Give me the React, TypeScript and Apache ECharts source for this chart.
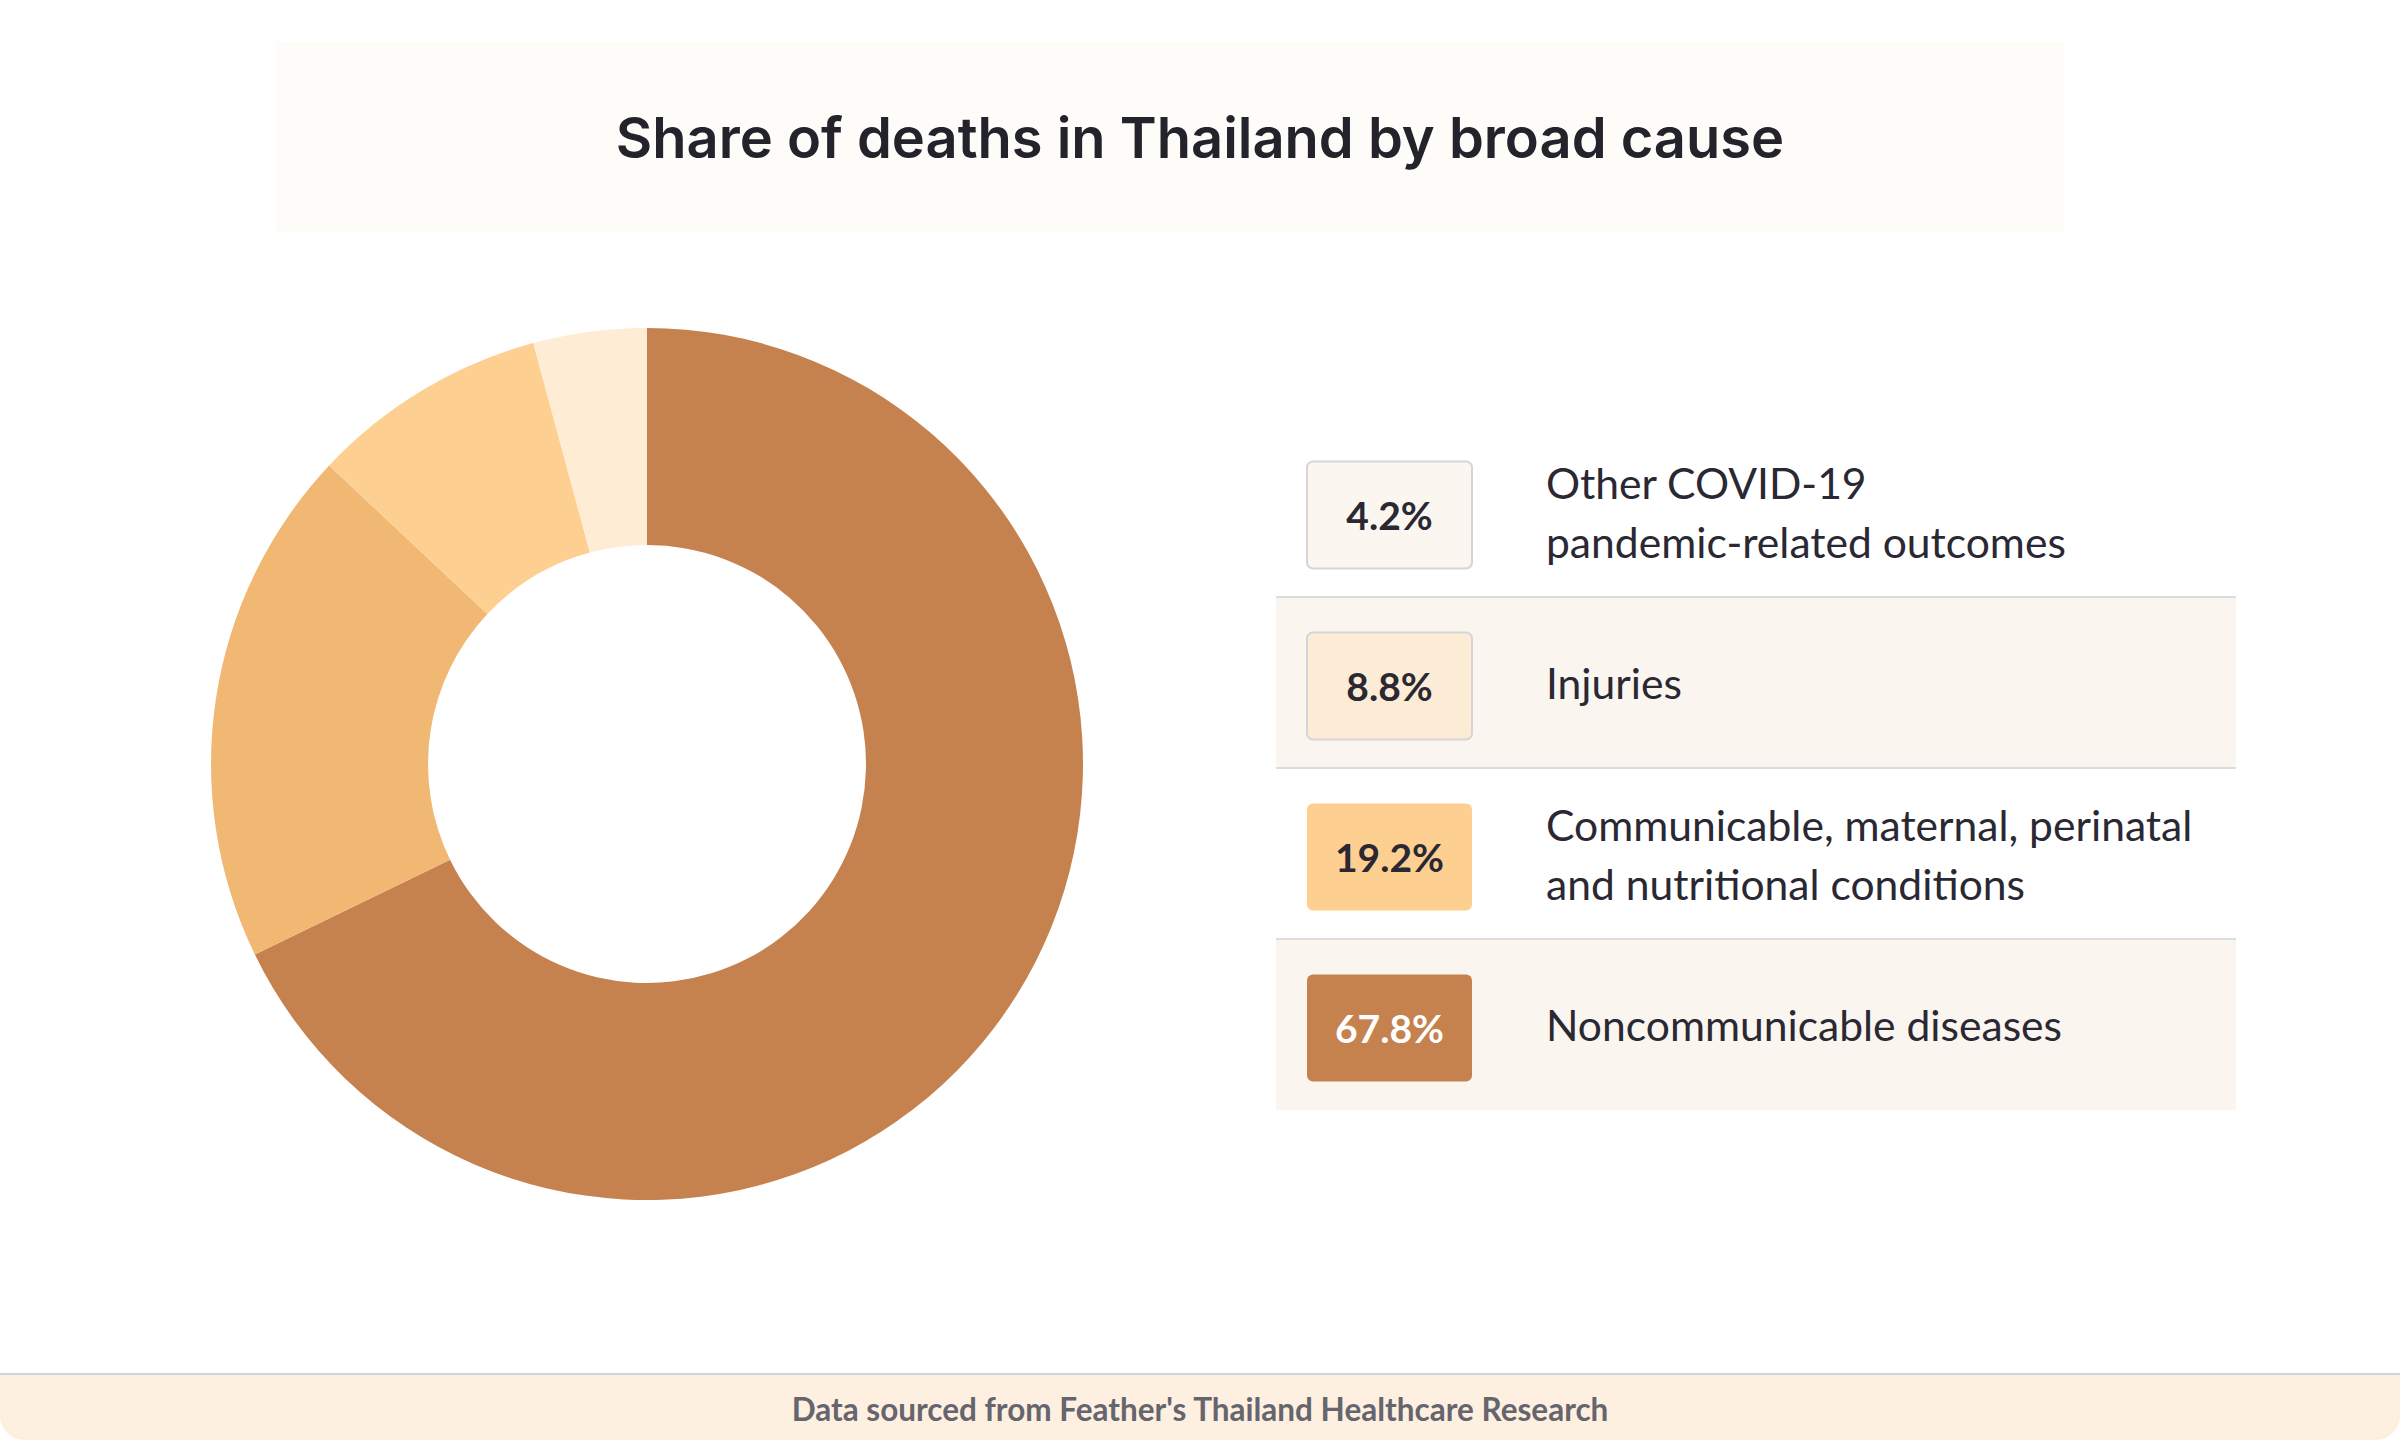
import { useEffect, useRef } from 'react'
import * as echarts from 'echarts'

// pie order: clockwise from 12 o'clock
const causes = [
  'Noncommunicable diseases',
  'Communicable, maternal, perinatal\nand nutritional conditions',
  'Injuries',
  'Other COVID-19\npandemic-related outcomes',
]
const shares = [67.8, 19.2, 8.8, 4.2]
const sliceColors = ['#C5824E', '#F1B874', '#FDD092', '#FEECD4']

// legend rows, top to bottom
const legendOrder = [3, 2, 1, 0]
const legendBoxColors = ['#FBF7F0', '#FDECD5', '#FDD092', '#C5824E']
const legendBoxBorders = ['#D6D4D8', '#D6D4D8', null, null]
const legendTextColors = ['#2A2833', '#2A2833', '#2A2833', '#FFFFFF']

const TITLE = 'Share of deaths in Thailand by broad cause'
const SOURCE = "Data sourced from Feather's Thailand Healthcare Research"

export default function App() {
  const ref = useRef<HTMLDivElement>(null)

  useEffect(() => {
    if (!ref.current) return
    const chart = echarts.init(ref.current, null, { renderer: 'svg' })

    const rowTop = 426
    const rowH = 171
    const rowX = 1276
    const rowW = 960

    const rows: any[] = []
    legendOrder.forEach((idx, i) => {
      const y = rowTop + i * rowH
      const cy = y + rowH / 2
      if (i % 2 === 1) {
        rows.push({ type: 'rect', shape: { x: rowX, y, width: rowW, height: rowH }, style: { fill: '#FAF6EF' } })
      }
      if (i > 0) {
        rows.push({ type: 'line', shape: { x1: rowX, y1: y, x2: rowX + rowW, y2: y }, style: { stroke: '#DCDBE0', lineWidth: 2 } })
      }
      const by = cy + 3
      rows.push({
        type: 'rect',
        shape: { x: 1307, y: by - 53, width: 165, height: 107, r: 6 },
        style: {
          fill: legendBoxColors[i],
          stroke: legendBoxBorders[i] ?? undefined,
          lineWidth: legendBoxBorders[i] ? 2 : 0,
        },
      })
      rows.push({
        type: 'text',
        x: 1389.5,
        y: by,
        style: {
          text: shares[idx].toFixed(1) + '%',
          fill: legendTextColors[i],
          font: 'bold 39px Lato',
          align: 'center',
          verticalAlign: 'middle',
        },
      })
      rows.push({
        type: 'text',
        x: 1546,
        y: cy,
        style: {
          text: causes[idx],
          fill: '#2A2833',
          font: '42.6px Lato',
          lineHeight: 59,
          align: 'left',
          verticalAlign: 'middle',
        },
      })
    })

    chart.setOption({
      animation: false,
      backgroundColor: '#FFFFFF',
      graphic: [
        { type: 'rect', shape: { x: 276, y: 42, width: 1788, height: 190 }, style: { fill: '#FEFCF8' } },
        {
          type: 'text',
          x: 1200,
          y: 138,
          style: {
            text: TITLE,
            fill: '#24232B',
            font: '600 56px Inter',
            align: 'center',
            verticalAlign: 'middle',
          },
        },
        ...rows,
        { type: 'rect', shape: { x: 0, y: 1374, width: 2400, height: 66, r: [0, 0, 24, 24] }, style: { fill: '#FDF0E1' } },
        { type: 'line', shape: { x1: 0, y1: 1374, x2: 2400, y2: 1374 }, style: { stroke: '#D4D3D8', lineWidth: 2 } },
        {
          type: 'text',
          x: 1200,
          y: 1409,
          style: {
            text: SOURCE,
            fill: '#66656E',
            font: 'bold 31.5px Lato',
            align: 'center',
            verticalAlign: 'middle',
          },
        },
      ],
      series: [
        {
          type: 'pie',
          center: [647, 764],
          radius: [219, 436],
          startAngle: 90,
          clockwise: true,
          label: { show: false },
          labelLine: { show: false },
          emphasis: { disabled: true },
          itemStyle: { borderWidth: 0 },
          data: shares.map((v, i) => ({ value: v, name: causes[i], itemStyle: { color: sliceColors[i] } })),
        },
      ],
    })

    return () => chart.dispose()
  }, [])

  return (
    <div
      ref={ref}
      style={{ position: 'absolute', left: 0, top: 0, width: 2400, height: 1440 }}
    />
  )
}
